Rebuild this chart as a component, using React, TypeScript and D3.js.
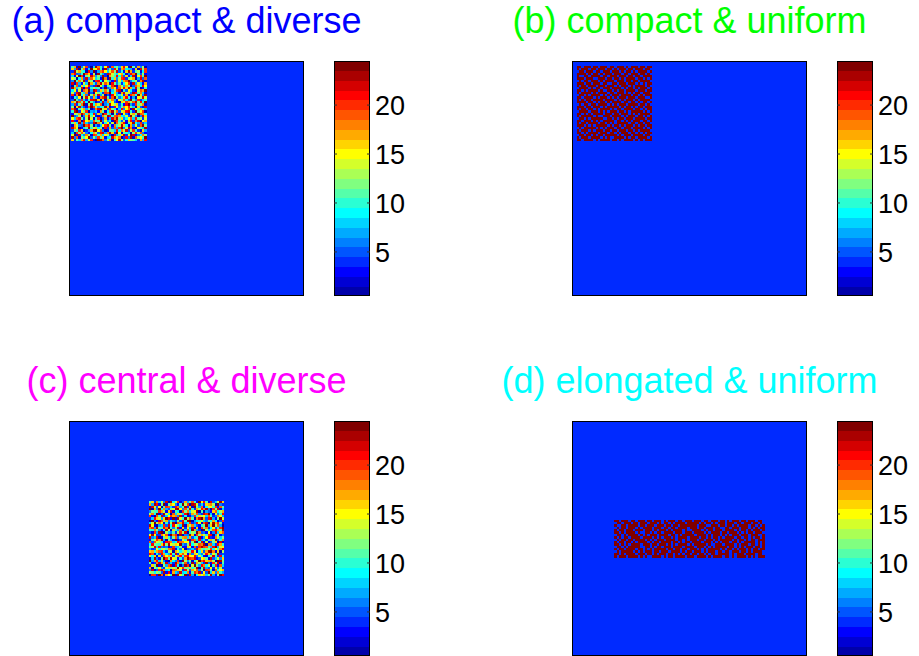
import React from 'react';
import * as d3 from 'd3';

// jet(24) colour map, level 1..24
const jetColors = [
  '#0000aa', '#0000d4', '#0000ff', '#002aff', '#0055ff', '#0080ff',
  '#00aaff', '#00d4ff', '#00ffff', '#2affd4', '#55ffaa', '#80ff80',
  '#aaff55', '#d4ff2a', '#ffff00', '#ffd400', '#ffaa00', '#ff8000',
  '#ff5500', '#ff2a00', '#ff0000', '#d40000', '#aa0000', '#800000',
];

const colorbarTicks = [5, 10, 15, 20];
const gridSize = 100;
const backgroundLevel = 4;
const uniformLevel = 24;

const panelTitles = [
  '(a) compact & diverse',
  '(b) compact & uniform',
  '(c) central & diverse',
  '(d) elongated & uniform',
];
const panelTitleColors = ['#0000ff', '#00ff00', '#ff00ff', '#00ffff'];
const patchKinds = ['diverse', 'uniform', 'diverse-t', 'uniform-long'];
// [row, col] of the patch's top-left cell
const patchOrigins = [[2, 1], [2, 2], [34, 34], [42, 18]];
// [rows, cols]
const patchShapes = [[32, 32], [32, 32], [32, 32], [16, 64]];

// diverse patch: levels a..x = 1..24
const diverseRows = [
  'kqbxfmtdahwrjeovcsilgpunbxkdqfma',
  'pgvalrchxnotjbwfkeumdqsihgcpavlt',
  'dwmqkiaufxbgrtohnslvejcpwqdkmbit',
  'ruefjxspcmawlgdvtnkhoqibfurxjemc',
  'hcoxtbknvrglfwdaqmjuisepchvbotkx',
  'nlaiqevgsohkcxrbwjpfmtudlnqagves',
  'fxjrmwdplbtuiaokgcvenhqsxfjmdrwb',
  'vbtgcnhxqjerwmspaulfkdiotbvgnhcq',
  'aksepioufdvxnhcjltwbrmgqkaespiuo',
  'wqhlvatcjmikbfxegrodsnupwqhvlacj',
  'iodnbsqxgwufpkrlchmtvajeoidbnsqx',
  'mfuwkhrbeaoljdtsxipgcqvnmfwukrhb',
  'tcrxipfwlskvgmaebuohjndqctrixpfw',
  'bjgoamvneqhcrtwkdsxlfipujbgaomvn',
  'exkfthdjuvwpambqnrgcolsiexkftdhj',
  'qmwsluixkgbdhvfrjoecapntqmswluix',
  'gtdkrxbmwiqnsafhvolpejcuxgdtkmrb',
  'lapvhecsxtmgijwqbdunfkrotlhapecv',
  'swbjnqgkadrvxmpetlichufosbwnjqkg',
  'jvxdoltagfhcqkbirwmsenpuvjdxlota',
  'cnlqwsjriuepgxtkhamdvbofcnqlwsri',
  'xegmafpvkocbdrlwujstqihnexmgafvp',
  'ohsukdmxnbjtaeqcgvrwlpfioshukmdn',
  'udcravoqhslkxfngibwtjemcpudrvaoq',
  'kpiwgthefvxrmcjodnaslqubkpwigteh',
  'bqnfexsulagdhotvkcrjmwpibqfnesxl',
  'vroachkwjnpilbudqesgtxfmvrcaokhw',
  'emjtpbdgqwxosfaclkhuirnvemtjdbpg',
  'hatlsnfciqmeuvgrwpdxobkjhaltnsfc',
  'nxcvifrlbtsjqhomeaugkpwdnxvcfirl',
  'wfsbmjoxelgtkpchivqnradufwbsmojx',
  'pdkhqugntcaxwsflrbjovmeiplkhdqgu',
];

// uniform patch: 1 = top level, 0 = background
const uniformRows = [
  '11011101101110110111010111011011',
  '10111011011101101011101101110110',
  '01101110110111011101011010111101',
  '11110101101011101110110111011010',
  '10011011110110111011101101101111',
  '11101110011101101101011110110101',
  '01011011101011110111011011011110',
  '11101101110110011011101110101011',
  '10110111011101110101110101111010',
  '01111010110111011110101101011101',
  '11010111101001101011011110111011',
  '10111101011110110111010101101110',
  '01101011110101011101111011010111',
  '11011110101110101011101110111001',
  '10101101111011110101011101011110',
  '11110110101101011110110110101101',
  '01011011011110101011101111011010',
  '11101101110101111101011010110111',
  '10110110101111010110111101101011',
  '01111011101010111011010111110101',
  '11010101111011101101110101011110',
  '10111110100111011110101110110101',
  '01101011111001101011011101111011',
  '11011101010111110110101011101101',
  '10110111101101010111110110110110',
  '11101010111110101101011101011011',
  '01011111010101110110111011110101',
  '10111010111011011011101101011110',
  '11010111101110110101110110101011',
  '01101101011011111010111011110110',
  '10111011110101001111010110111101',
  '11011110101111011010111101010111',
];

const FONT = '"Liberation Sans", Arial, Helvetica, sans-serif';
const AX = 235;
const axesLeft = [69, 572];
const axesTop = [61, 421];

function cellLevel(kind: string, r: number, c: number): number {
  if (kind === 'diverse') return Math.min(24, diverseRows[r].charCodeAt(c) - 96);
  if (kind === 'diverse-t') return Math.min(24, diverseRows[c].charCodeAt(r) - 96);
  if (kind === 'uniform') return uniformRows[r][c] === '1' ? uniformLevel : backgroundLevel;
  const k = r * 64 + c;
  return uniformRows[Math.floor(k / 32)][k % 32] === '1' ? uniformLevel : backgroundLevel;
}

function Panel({ i }: { i: number }) {
  const x0 = axesLeft[i % 2];
  const y0 = axesTop[Math.floor(i / 2)];
  const x = d3.scaleLinear().domain([0, gridSize]).range([x0, x0 + AX]);
  const y = d3.scaleLinear().domain([0, gridSize]).range([y0, y0 + AX]);
  const [pr, pc] = patchOrigins[i];
  const [nr, nc] = patchShapes[i];
  const cells: { r: number; c: number; v: number }[] = [];
  for (let r = 0; r < nr; r++) {
    for (let c = 0; c < nc; c++) {
      cells.push({ r: pr + r, c: pc + c, v: cellLevel(patchKinds[i], r, c) });
    }
  }

  const cbX = x0 + 265;
  const cbW = 36;
  const cb = d3.scaleLinear().domain([0.5, 24.5]).range([y0 + AX, y0]);
  const levels = d3.range(1, 25);

  return (
    <g>
      <text x={x0 + AX / 2} y={y0 - 28} textAnchor="middle" fontFamily={FONT} fontSize={36}
        fill={panelTitleColors[i]}>{panelTitles[i]}</text>
      <rect x={x0} y={y0} width={AX} height={AX} fill={jetColors[backgroundLevel - 1]} />
      <g shapeRendering="crispEdges">
        {cells.map((d, k) => (
          <rect key={k} x={x(d.c)} y={y(d.r)} width={x(d.c + 1) - x(d.c) + 0.2}
            height={y(d.r + 1) - y(d.r) + 0.2} fill={jetColors[d.v - 1]} />
        ))}
      </g>
      <rect x={x0 + 0.5} y={y0 + 0.5} width={AX - 1} height={AX - 1} fill="none" stroke="#000" strokeWidth={1} />

      <g shapeRendering="crispEdges">
        {levels.map((l) => (
          <rect key={l} x={cbX} y={cb(l + 0.5)} width={cbW} height={cb(l - 0.5) - cb(l + 0.5) + 0.3}
            fill={jetColors[l - 1]} />
        ))}
      </g>
      <rect x={cbX + 0.5} y={y0 + 0.5} width={cbW - 1} height={AX - 1} fill="none" stroke="#000" strokeWidth={1} />
      {colorbarTicks.map((t) => (
        <g key={t}>
          <line x1={cbX} x2={cbX + 3} y1={cb(t)} y2={cb(t)} stroke="#333" strokeWidth={1} />
          <line x1={cbX + cbW - 3} x2={cbX + cbW} y1={cb(t)} y2={cb(t)} stroke="#333" strokeWidth={1} />
          <text x={cbX + cbW + 5} y={cb(t)} dy="0.36em" fontFamily={FONT} fontSize={27} fill="#000">{t}</text>
        </g>
      ))}
    </g>
  );
}

export default function App() {
  return (
    <svg width={919} height={656} style={{ position: 'absolute', left: 0, top: 0, background: '#fff' }}>
      {[0, 1, 2, 3].map((i) => <Panel key={i} i={i} />)}
    </svg>
  );
}
